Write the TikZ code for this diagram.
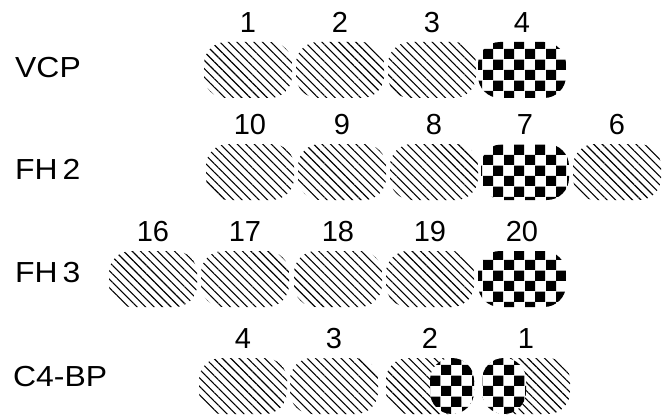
\documentclass[tikz,border=0pt]{standalone}
\usepackage{fontspec}
\setmainfont{Liberation Sans}
\newfontfamily\rowfont{Liberation Sans}[FakeStretch=1.1]
\usetikzlibrary{positioning, patterns.meta}

\pgfdeclarepatternformonly{bigchecker}{\pgfpointorigin}{\pgfpoint{21pt}{21pt}}{\pgfpoint{21pt}{21pt}}{%
  \pgfpathrectangle{\pgfpointorigin}{\pgfpoint{10.5pt}{10.5pt}}%
  \pgfpathrectangle{\pgfpoint{10.5pt}{10.5pt}}{\pgfpoint{10.5pt}{10.5pt}}%
  \pgfusepath{fill}}

\tikzset{
  blob/.style={rectangle, rounded corners=22pt, minimum width=88pt, minimum height=56pt, inner sep=0pt},
  hatched/.style={blob, pattern={Lines[angle=-45, distance=6pt, line width=1.1pt]}},
  checkered/.style={blob, pattern=bigchecker},
  halfcheck/.style={hatched, path picture={
      \fill[white] (path picture bounding box.north) rectangle (path picture bounding box.south #1);
      \fill[pattern=bigchecker] (path picture bounding box.north) rectangle (path picture bounding box.south #1);}},
  rowlabel/.style={anchor=west, inner sep=0pt, font=\rowfont\fontsize{29}{33}\selectfont},
}

\begin{document}
\begin{tikzpicture}[x=1pt, y=1pt, font=\fontsize{29}{33}\selectfont,
    label distance=9pt, every label/.style={inner sep=0pt, text height=21pt, text depth=0pt}]
  \useasboundingbox (0,0) rectangle (670,416);

  % row names
  \node[rowlabel] (lvcp) at (15,348) {VCP};
  \node[rowlabel] (lfh2) at (15,247) {FH\,2};
  \node[rowlabel] (lfh3) at (15,143) {FH\,3};
  \node[rowlabel] (lc4)  at (13,39)  {C4-BP};

  % VCP
  \foreach \n/\x in {1/248, 2/340, 3/432}
    \node[hatched, label=above:\n] (vcp\n) at (\x,346) {};
  \node[checkered, label=above:4] (vcp4) at (522,346) {};

  % FH 2
  \foreach \n/\x in {10/250, 9/342, 8/434}
    \node[hatched, label=above:\n] (fh\n) at (\x,244) {};
  \node[checkered, label=above:7] (fh7) at (525,244) {};
  \node[hatched, label=above:6] (fh6) at (617,244) {};

  % FH 3
  \foreach \n/\x in {16/153, 17/245, 18/338, 19/430}
    \node[hatched, label=above:\n] (fh\n) at (\x,137) {};
  \node[checkered, label=above:20] (fh20) at (522,137) {};

  % C4-BP
  \node[hatched, label=above:4] (cb4) at (243,30) {};
  \node[hatched, label=above:3] (cb3) at (334,30) {};
  \node[halfcheck=east, label=above:2] (cb2) at (430,30) {};
  \node[halfcheck=west, label=above:1] (cb1) at (526,30) {};
\end{tikzpicture}
\end{document}
